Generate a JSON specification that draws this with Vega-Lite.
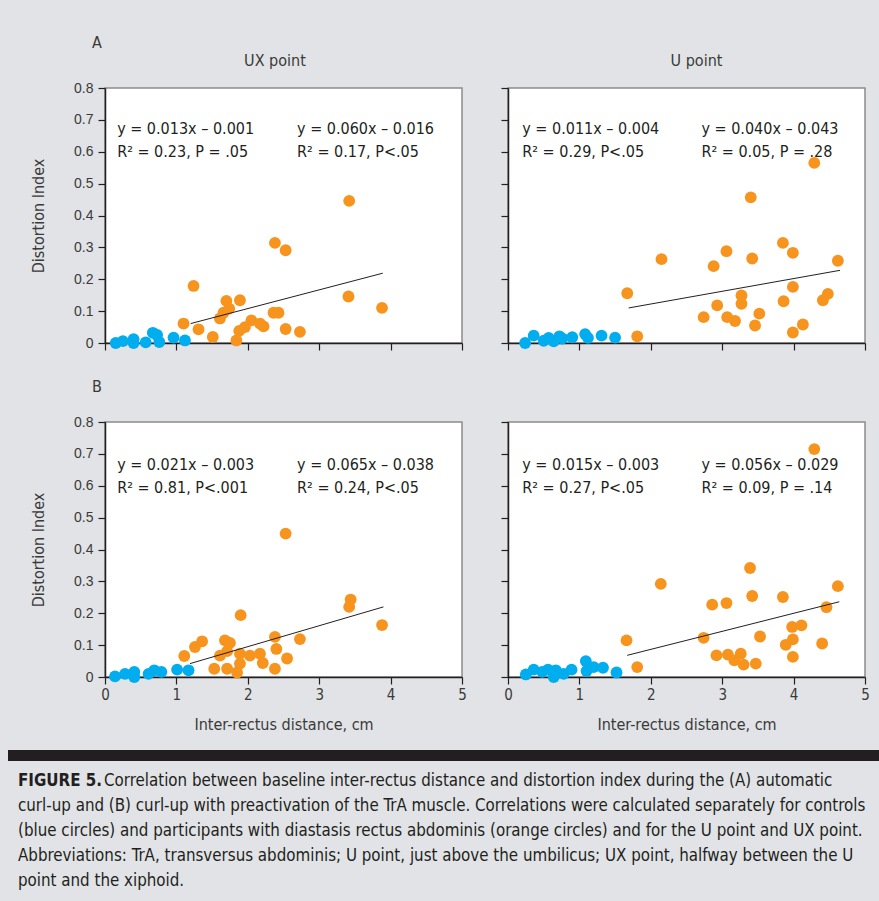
{
  "$schema": "https://vega.github.io/schema/vega-lite/v6.json",
  "background": "#e1e3e6",
  "padding": {"left": 8, "top": 34, "right": 0, "bottom": 0},
  "config": {
    "font": "DejaVu Sans Condensed",
    "view": {"fill": "white", "stroke": "#8c8c8c", "strokeWidth": 1.5},
    "axis": {"grid": false, "labelOverlap": false, "labelFlush": false, "domainColor": "#231f20", "domainWidth": 1.5, "tickColor": "#231f20", "tickSize": 7, "tickWidth": 1.2, "labelColor": "#3a3a3a", "titleColor": "#3a3a3a", "titleFontWeight": "normal", "titleFont": "DejaVu Sans Condensed", "titleFontSize": 16},
    "axisY": {"labelFont": "Liberation Sans", "labelFontSize": 14, "labelPadding": 5, "titlePadding": 27},
    "axisX": {"labelFont": "DejaVu Sans Condensed", "labelFontSize": 15, "labelPadding": 3, "titlePadding": 14}
  },
  "datasets": {
    "pts": [
      {"p":"A_UX","g":"Control","x":0.15,"y":0.0},{"p":"A_UX","g":"Control","x":0.25,"y":0.006},{"p":"A_UX","g":"Control","x":0.40,"y":0.012},{"p":"A_UX","g":"Control","x":0.40,"y":0.0},{"p":"A_UX","g":"Control","x":0.57,"y":0.002},{"p":"A_UX","g":"Control","x":0.67,"y":0.032},{"p":"A_UX","g":"Control","x":0.73,"y":0.025},{"p":"A_UX","g":"Control","x":0.76,"y":0.003},{"p":"A_UX","g":"Control","x":0.96,"y":0.017},{"p":"A_UX","g":"Control","x":1.12,"y":0.008},
      {"p":"A_UX","g":"DRA","x":3.42,"y":0.446},{"p":"A_UX","g":"DRA","x":2.38,"y":0.314},{"p":"A_UX","g":"DRA","x":2.53,"y":0.291},{"p":"A_UX","g":"DRA","x":1.24,"y":0.179},{"p":"A_UX","g":"DRA","x":3.41,"y":0.146},{"p":"A_UX","g":"DRA","x":3.88,"y":0.110},{"p":"A_UX","g":"DRA","x":1.70,"y":0.132},{"p":"A_UX","g":"DRA","x":1.89,"y":0.134},{"p":"A_UX","g":"DRA","x":1.74,"y":0.108},{"p":"A_UX","g":"DRA","x":1.66,"y":0.095},{"p":"A_UX","g":"DRA","x":1.61,"y":0.077},{"p":"A_UX","g":"DRA","x":1.10,"y":0.061},{"p":"A_UX","g":"DRA","x":1.31,"y":0.043},{"p":"A_UX","g":"DRA","x":1.51,"y":0.019},{"p":"A_UX","g":"DRA","x":1.84,"y":0.008},{"p":"A_UX","g":"DRA","x":1.88,"y":0.038},{"p":"A_UX","g":"DRA","x":1.96,"y":0.050},{"p":"A_UX","g":"DRA","x":2.05,"y":0.071},{"p":"A_UX","g":"DRA","x":2.17,"y":0.061},{"p":"A_UX","g":"DRA","x":2.22,"y":0.052},{"p":"A_UX","g":"DRA","x":2.36,"y":0.095},{"p":"A_UX","g":"DRA","x":2.43,"y":0.095},{"p":"A_UX","g":"DRA","x":2.53,"y":0.044},{"p":"A_UX","g":"DRA","x":2.73,"y":0.035},
      {"p":"A_U","g":"Control","x":0.24,"y":0.0},{"p":"A_U","g":"Control","x":0.36,"y":0.023},{"p":"A_U","g":"Control","x":0.50,"y":0.007},{"p":"A_U","g":"Control","x":0.57,"y":0.016},{"p":"A_U","g":"Control","x":0.64,"y":0.005},{"p":"A_U","g":"Control","x":0.72,"y":0.021},{"p":"A_U","g":"Control","x":0.76,"y":0.014},{"p":"A_U","g":"Control","x":0.90,"y":0.018},{"p":"A_U","g":"Control","x":1.08,"y":0.028},{"p":"A_U","g":"Control","x":1.12,"y":0.016},{"p":"A_U","g":"Control","x":1.31,"y":0.023},{"p":"A_U","g":"Control","x":1.50,"y":0.017},
      {"p":"A_U","g":"DRA","x":4.29,"y":0.565},{"p":"A_U","g":"DRA","x":3.40,"y":0.457},{"p":"A_U","g":"DRA","x":3.85,"y":0.314},{"p":"A_U","g":"DRA","x":3.99,"y":0.283},{"p":"A_U","g":"DRA","x":3.06,"y":0.288},{"p":"A_U","g":"DRA","x":3.42,"y":0.265},{"p":"A_U","g":"DRA","x":2.15,"y":0.263},{"p":"A_U","g":"DRA","x":2.88,"y":0.241},{"p":"A_U","g":"DRA","x":4.62,"y":0.258},{"p":"A_U","g":"DRA","x":1.67,"y":0.156},{"p":"A_U","g":"DRA","x":3.99,"y":0.176},{"p":"A_U","g":"DRA","x":3.27,"y":0.149},{"p":"A_U","g":"DRA","x":3.27,"y":0.123},{"p":"A_U","g":"DRA","x":3.86,"y":0.131},{"p":"A_U","g":"DRA","x":4.41,"y":0.134},{"p":"A_U","g":"DRA","x":4.48,"y":0.154},{"p":"A_U","g":"DRA","x":2.93,"y":0.118},{"p":"A_U","g":"DRA","x":2.74,"y":0.081},{"p":"A_U","g":"DRA","x":3.07,"y":0.081},{"p":"A_U","g":"DRA","x":3.18,"y":0.069},{"p":"A_U","g":"DRA","x":3.52,"y":0.092},{"p":"A_U","g":"DRA","x":3.46,"y":0.055},{"p":"A_U","g":"DRA","x":4.13,"y":0.058},{"p":"A_U","g":"DRA","x":3.99,"y":0.033},{"p":"A_U","g":"DRA","x":1.81,"y":0.021},
      {"p":"B_UX","g":"Control","x":0.14,"y":0.002},{"p":"B_UX","g":"Control","x":0.28,"y":0.010},{"p":"B_UX","g":"Control","x":0.41,"y":0.016},{"p":"B_UX","g":"Control","x":0.41,"y":0.0},{"p":"B_UX","g":"Control","x":0.61,"y":0.010},{"p":"B_UX","g":"Control","x":0.69,"y":0.021},{"p":"B_UX","g":"Control","x":0.79,"y":0.016},{"p":"B_UX","g":"Control","x":1.01,"y":0.023},{"p":"B_UX","g":"Control","x":1.17,"y":0.021},
      {"p":"B_UX","g":"DRA","x":2.53,"y":0.450},{"p":"B_UX","g":"DRA","x":3.44,"y":0.243},{"p":"B_UX","g":"DRA","x":3.42,"y":0.220},{"p":"B_UX","g":"DRA","x":3.88,"y":0.163},{"p":"B_UX","g":"DRA","x":1.90,"y":0.194},{"p":"B_UX","g":"DRA","x":2.73,"y":0.119},{"p":"B_UX","g":"DRA","x":2.38,"y":0.126},{"p":"B_UX","g":"DRA","x":2.40,"y":0.088},{"p":"B_UX","g":"DRA","x":1.36,"y":0.112},{"p":"B_UX","g":"DRA","x":1.26,"y":0.094},{"p":"B_UX","g":"DRA","x":1.11,"y":0.066},{"p":"B_UX","g":"DRA","x":1.68,"y":0.115},{"p":"B_UX","g":"DRA","x":1.75,"y":0.107},{"p":"B_UX","g":"DRA","x":1.61,"y":0.067},{"p":"B_UX","g":"DRA","x":1.71,"y":0.081},{"p":"B_UX","g":"DRA","x":1.89,"y":0.073},{"p":"B_UX","g":"DRA","x":2.03,"y":0.067},{"p":"B_UX","g":"DRA","x":2.17,"y":0.073},{"p":"B_UX","g":"DRA","x":2.21,"y":0.044},{"p":"B_UX","g":"DRA","x":1.89,"y":0.042},{"p":"B_UX","g":"DRA","x":2.55,"y":0.058},{"p":"B_UX","g":"DRA","x":1.53,"y":0.026},{"p":"B_UX","g":"DRA","x":1.71,"y":0.026},{"p":"B_UX","g":"DRA","x":1.85,"y":0.014},{"p":"B_UX","g":"DRA","x":2.38,"y":0.026},
      {"p":"B_U","g":"Control","x":0.25,"y":0.008},{"p":"B_U","g":"Control","x":0.36,"y":0.023},{"p":"B_U","g":"Control","x":0.48,"y":0.016},{"p":"B_U","g":"Control","x":0.56,"y":0.023},{"p":"B_U","g":"Control","x":0.64,"y":0.0},{"p":"B_U","g":"Control","x":0.67,"y":0.021},{"p":"B_U","g":"Control","x":0.78,"y":0.010},{"p":"B_U","g":"Control","x":0.89,"y":0.023},{"p":"B_U","g":"Control","x":1.09,"y":0.050},{"p":"B_U","g":"Control","x":1.10,"y":0.019},{"p":"B_U","g":"Control","x":1.20,"y":0.031},{"p":"B_U","g":"Control","x":1.33,"y":0.029},{"p":"B_U","g":"Control","x":1.52,"y":0.014},
      {"p":"B_U","g":"DRA","x":4.29,"y":0.715},{"p":"B_U","g":"DRA","x":3.39,"y":0.342},{"p":"B_U","g":"DRA","x":2.14,"y":0.292},{"p":"B_U","g":"DRA","x":4.62,"y":0.285},{"p":"B_U","g":"DRA","x":3.42,"y":0.254},{"p":"B_U","g":"DRA","x":3.85,"y":0.251},{"p":"B_U","g":"DRA","x":2.86,"y":0.227},{"p":"B_U","g":"DRA","x":3.06,"y":0.232},{"p":"B_U","g":"DRA","x":4.46,"y":0.219},{"p":"B_U","g":"DRA","x":1.66,"y":0.115},{"p":"B_U","g":"DRA","x":2.74,"y":0.123},{"p":"B_U","g":"DRA","x":3.53,"y":0.127},{"p":"B_U","g":"DRA","x":3.98,"y":0.157},{"p":"B_U","g":"DRA","x":4.11,"y":0.162},{"p":"B_U","g":"DRA","x":3.99,"y":0.118},{"p":"B_U","g":"DRA","x":3.89,"y":0.101},{"p":"B_U","g":"DRA","x":4.40,"y":0.105},{"p":"B_U","g":"DRA","x":3.99,"y":0.063},{"p":"B_U","g":"DRA","x":2.92,"y":0.068},{"p":"B_U","g":"DRA","x":3.08,"y":0.070},{"p":"B_U","g":"DRA","x":3.26,"y":0.073},{"p":"B_U","g":"DRA","x":3.17,"y":0.052},{"p":"B_U","g":"DRA","x":3.30,"y":0.039},{"p":"B_U","g":"DRA","x":3.47,"y":0.042},{"p":"B_U","g":"DRA","x":1.81,"y":0.031}
    ],
    "fits": [
      {"p":"A_UX","x":1.2,"y":0.061},{"p":"A_UX","x":3.89,"y":0.219},
      {"p":"A_U","x":1.69,"y":0.110},{"p":"A_U","x":4.65,"y":0.228},
      {"p":"B_UX","x":1.19,"y":0.042},{"p":"B_UX","x":3.90,"y":0.220},
      {"p":"B_U","x":1.67,"y":0.068},{"p":"B_U","x":4.64,"y":0.236}
    ],
    "notes": [
      {"p":"A_UX","x":0.17,"y":0.672,"t":"y = 0.013x – 0.001"},{"p":"A_UX","x":0.17,"y":0.600,"t":"R² = 0.23, P = .05"},{"p":"A_UX","x":2.69,"y":0.672,"t":"y = 0.060x – 0.016"},{"p":"A_UX","x":2.69,"y":0.600,"t":"R² = 0.17, P<.05"},
      {"p":"A_U","x":0.2,"y":0.672,"t":"y = 0.011x – 0.004"},{"p":"A_U","x":0.2,"y":0.600,"t":"R² = 0.29, P<.05"},{"p":"A_U","x":2.71,"y":0.672,"t":"y = 0.040x – 0.043"},{"p":"A_U","x":2.71,"y":0.600,"t":"R² = 0.05, P = .28"},
      {"p":"B_UX","x":0.17,"y":0.665,"t":"y = 0.021x – 0.003"},{"p":"B_UX","x":0.17,"y":0.593,"t":"R² = 0.81, P<.001"},{"p":"B_UX","x":2.69,"y":0.665,"t":"y = 0.065x – 0.038"},{"p":"B_UX","x":2.69,"y":0.593,"t":"R² = 0.24, P<.05"},
      {"p":"B_U","x":0.2,"y":0.665,"t":"y = 0.015x – 0.003"},{"p":"B_U","x":0.2,"y":0.593,"t":"R² = 0.27, P<.05"},{"p":"B_U","x":2.71,"y":0.665,"t":"y = 0.056x – 0.029"},{"p":"B_U","x":2.71,"y":0.593,"t":"R² = 0.09, P = .14"}
    ],
    "heads": [
      {"p":"A_UX","x":-0.112,"y":0.941,"t":"A"},
      {"p":"A_UX","x":2.38,"y":0.885,"t":"UX point"},
      {"p":"A_U","x":2.64,"y":0.885,"t":"U point"},
      {"p":"B_UX","x":-0.112,"y":0.909,"t":"B"}
    ],
    "caption": [
      {"line":1,"seg":"bold","t":"FIGURE 5."},
      {"line":1,"seg":"rest","t":"Correlation between baseline inter-rectus distance and distortion index during the (A) automatic"},
      {"line":2,"seg":"body","t":"curl-up and (B) curl-up with preactivation of the TrA muscle. Correlations were calculated separately for controls"},
      {"line":3,"seg":"body","t":"(blue circles) and participants with diastasis rectus abdominis (orange circles) and for the U point and UX point."},
      {"line":4,"seg":"body","t":"Abbreviations: TrA, transversus abdominis; U point, just above the umbilicus; UX point, halfway between the U"},
      {"line":5,"seg":"body","t":"point and the xiphoid."}
    ]
  },
  "columns": 2,
  "align": "none",
  "bounds": "flush",
  "spacing": {"row": 79, "column": 46},
  "concat": [
    {
      "width": 357, "height": 255,
      "encoding": {
        "x": {"field": "x", "type": "quantitative", "scale": {"domain": [0, 5], "nice": false}, "axis": {"values": [0,1,2,3,4,5], "tickCount": 10, "labels": false, "title": null}},
        "y": {"field": "y", "type": "quantitative", "scale": {"domain": [0, 0.8], "nice": false}, "axis": {"values": [0,0.1,0.2,0.3,0.4,0.5,0.6,0.7,0.8], "tickCount": 12, "format": "~g", "title": "Distortion Index"}}
      },
      "layer": [
        {"data": {"name": "pts"}, "transform": [{"filter": "datum.p == 'A_UX'"}],
         "mark": {"type": "circle", "size": 140, "opacity": 1},
         "encoding": {"color": {"field": "g", "type": "nominal", "scale": {"domain": ["Control", "DRA"], "range": ["#00aeef", "#f7941d"]}, "legend": null}}},
        {"data": {"name": "fits"}, "transform": [{"filter": "datum.p == 'A_UX'"}],
         "mark": {"type": "line", "color": "#231f20", "strokeWidth": 1}, "encoding": {}},
        {"data": {"name": "notes"}, "transform": [{"filter": "datum.p == 'A_UX'"}],
         "mark": {"type": "text", "align": "left", "baseline": "middle", "fontSize": 16, "color": "#231f20"},
         "encoding": {"text": {"field": "t"}}},
        {"data": {"name": "heads"}, "transform": [{"filter": "datum.p == 'A_UX'"}],
         "mark": {"type": "text", "align": "center", "baseline": "middle", "fontSize": 16, "color": "#3a3a3a"},
         "encoding": {"text": {"field": "t"}}}
      ]
    },
    {
      "width": 357, "height": 255,
      "encoding": {
        "x": {"field": "x", "type": "quantitative", "scale": {"domain": [0, 5], "nice": false}, "axis": {"values": [0,1,2,3,4,5], "tickCount": 10, "labels": false, "title": null}},
        "y": {"field": "y", "type": "quantitative", "scale": {"domain": [0, 0.8], "nice": false}, "axis": {"values": [0,0.1,0.2,0.3,0.4,0.5,0.6,0.7,0.8], "tickCount": 12, "labels": false, "title": null}}
      },
      "layer": [
        {"data": {"name": "pts"}, "transform": [{"filter": "datum.p == 'A_U'"}],
         "mark": {"type": "circle", "size": 140, "opacity": 1},
         "encoding": {"color": {"field": "g", "type": "nominal", "scale": {"domain": ["Control", "DRA"], "range": ["#00aeef", "#f7941d"]}, "legend": null}}},
        {"data": {"name": "fits"}, "transform": [{"filter": "datum.p == 'A_U'"}],
         "mark": {"type": "line", "color": "#231f20", "strokeWidth": 1}, "encoding": {}},
        {"data": {"name": "notes"}, "transform": [{"filter": "datum.p == 'A_U'"}],
         "mark": {"type": "text", "align": "left", "baseline": "middle", "fontSize": 16, "color": "#231f20"},
         "encoding": {"text": {"field": "t"}}},
        {"data": {"name": "heads"}, "transform": [{"filter": "datum.p == 'A_U'"}],
         "mark": {"type": "text", "align": "center", "baseline": "middle", "fontSize": 16, "color": "#3a3a3a"},
         "encoding": {"text": {"field": "t"}}}
      ]
    },
    {
      "width": 357, "height": 255,
      "encoding": {
        "x": {"field": "x", "type": "quantitative", "scale": {"domain": [0, 5], "nice": false}, "axis": {"values": [0,1,2,3,4,5], "tickCount": 10, "format": "d", "title": "Inter-rectus distance, cm"}},
        "y": {"field": "y", "type": "quantitative", "scale": {"domain": [0, 0.8], "nice": false}, "axis": {"values": [0,0.1,0.2,0.3,0.4,0.5,0.6,0.7,0.8], "tickCount": 12, "format": "~g", "title": "Distortion Index"}}
      },
      "layer": [
        {"data": {"name": "pts"}, "transform": [{"filter": "datum.p == 'B_UX'"}],
         "mark": {"type": "circle", "size": 140, "opacity": 1},
         "encoding": {"color": {"field": "g", "type": "nominal", "scale": {"domain": ["Control", "DRA"], "range": ["#00aeef", "#f7941d"]}, "legend": null}}},
        {"data": {"name": "fits"}, "transform": [{"filter": "datum.p == 'B_UX'"}],
         "mark": {"type": "line", "color": "#231f20", "strokeWidth": 1}, "encoding": {}},
        {"data": {"name": "notes"}, "transform": [{"filter": "datum.p == 'B_UX'"}],
         "mark": {"type": "text", "align": "left", "baseline": "middle", "fontSize": 16, "color": "#231f20"},
         "encoding": {"text": {"field": "t"}}},
        {"data": {"name": "heads"}, "transform": [{"filter": "datum.p == 'B_UX'"}],
         "mark": {"type": "text", "align": "center", "baseline": "middle", "fontSize": 16, "color": "#3a3a3a"},
         "encoding": {"text": {"field": "t"}}}
      ]
    },
    {
      "width": 357, "height": 255,
      "encoding": {
        "x": {"field": "x", "type": "quantitative", "scale": {"domain": [0, 5], "nice": false}, "axis": {"values": [0,1,2,3,4,5], "tickCount": 10, "format": "d", "title": "Inter-rectus distance, cm"}},
        "y": {"field": "y", "type": "quantitative", "scale": {"domain": [0, 0.8], "nice": false}, "axis": {"values": [0,0.1,0.2,0.3,0.4,0.5,0.6,0.7,0.8], "tickCount": 12, "labels": false, "title": null}}
      },
      "layer": [
        {"data": {"name": "pts"}, "transform": [{"filter": "datum.p == 'B_U'"}],
         "mark": {"type": "circle", "size": 140, "opacity": 1},
         "encoding": {"color": {"field": "g", "type": "nominal", "scale": {"domain": ["Control", "DRA"], "range": ["#00aeef", "#f7941d"]}, "legend": null}}},
        {"data": {"name": "fits"}, "transform": [{"filter": "datum.p == 'B_U'"}],
         "mark": {"type": "line", "color": "#231f20", "strokeWidth": 1}, "encoding": {}},
        {"data": {"name": "notes"}, "transform": [{"filter": "datum.p == 'B_U'"}],
         "mark": {"type": "text", "align": "left", "baseline": "middle", "fontSize": 16, "color": "#231f20"},
         "encoding": {"text": {"field": "t"}}}
      ]
    },
    {
      "width": 357, "height": 146,
      "view": {"fill": null, "stroke": null},
      "layer": [
        {"data": {"values": [{}]},
         "mark": {"type": "rect", "color": "#231f20", "xOffset": -97, "x2Offset": 417},
         "encoding": {
           "x": {"datum": 0, "type": "quantitative", "scale": {"domain": [0, 1], "nice": false}, "axis": null},
           "x2": {"datum": 1},
           "y": {"datum": -0.24, "type": "quantitative", "scale": {"domain": [0, 5.84], "nice": false, "zero": false, "reverse": true}, "axis": null},
           "y2": {"datum": 0.2}}},
        {"data": {"name": "caption"}, "transform": [{"filter": "datum.seg == 'bold'"}],
         "mark": {"type": "text", "align": "left", "baseline": "middle", "fontSize": 16.8, "fontWeight": "bold", "dx": -87, "color": "#231f20"},
         "encoding": {"x": {"datum": 0, "type": "quantitative"}, "y": {"field": "line", "type": "quantitative"}, "text": {"field": "t"}}},
        {"data": {"name": "caption"}, "transform": [{"filter": "datum.seg == 'rest'"}],
         "mark": {"type": "text", "align": "left", "baseline": "middle", "fontSize": 16.8, "dx": -1, "color": "#231f20"},
         "encoding": {"x": {"datum": 0, "type": "quantitative"}, "y": {"field": "line", "type": "quantitative"}, "text": {"field": "t"}}},
        {"data": {"name": "caption"}, "transform": [{"filter": "datum.seg == 'body'"}],
         "mark": {"type": "text", "align": "left", "baseline": "middle", "fontSize": 16.8, "dx": -87, "color": "#231f20"},
         "encoding": {"x": {"datum": 0, "type": "quantitative"}, "y": {"field": "line", "type": "quantitative"}, "text": {"field": "t"}}}
      ]
    }
  ]
}
